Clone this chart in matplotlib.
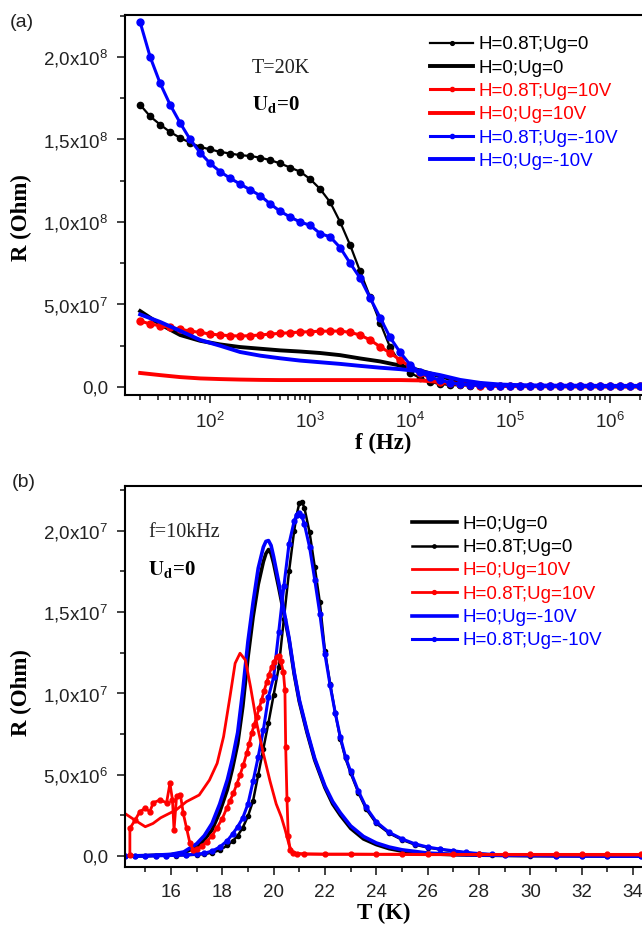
import numpy as np
import matplotlib
matplotlib.use('Agg')
import matplotlib.pyplot as plt
from matplotlib.ticker import FuncFormatter, MultipleLocator, AutoMinorLocator, LogLocator

plt.rcParams['font.family'] = ['Liberation Sans', 'DejaVu Sans']
plt.rcParams['mathtext.fontset'] = 'custom'
plt.rcParams['mathtext.rm'] = 'Liberation Sans'
plt.rcParams['mathtext.it'] = 'Liberation Sans:italic'
plt.rcParams['mathtext.bf'] = 'Liberation Sans:bold'

# ---------------- (a) R vs frequency at T=20K ----------------
# frequency sweep, 10 points per decade from 20 Hz to 2 MHz
freq = np.logspace(np.log10(20), np.log10(2e6), 51)
freq_solid = freq[::2]

# curves with markers (units of 1e7 Ohm)
Ra_h08_ug0 = np.array([17.1, 16.4, 15.9, 15.45, 15.1, 14.8, 14.55, 14.4, 14.25, 14.15,
                       14.05, 14.0, 13.9, 13.75, 13.55, 13.3, 13.05, 12.6, 12.0, 11.2,
                       10.0, 8.6, 7.0, 5.45, 3.9, 2.4, 1.45, 0.85, 0.55, 0.3,
                       0.18, 0.12, 0.1, 0.09, 0.08, 0.07, 0.07, 0.06, 0.06, 0.05,
                       0.05, 0.05, 0.05, 0.04, 0.04, 0.04, 0.04, 0.04, 0.04, 0.04, 0.04]) * 1e7
Ra_h08_ugp = np.array([4.0, 3.82, 3.71, 3.62, 3.5, 3.39, 3.31, 3.21, 3.15, 3.11,
                       3.09, 3.11, 3.15, 3.21, 3.25, 3.29, 3.33, 3.35, 3.38, 3.39,
                       3.39, 3.31, 3.15, 2.85, 2.44, 2.06, 1.64, 1.23, 0.85, 0.55,
                       0.32, 0.24, 0.18, 0.12, 0.09, 0.08, 0.07, 0.06, 0.06, 0.06,
                       0.06, 0.05, 0.05, 0.05, 0.05, 0.05, 0.05, 0.05, 0.05, 0.05, 0.05]) * 1e7
Ra_h08_ugm = np.array([22.1, 20.0, 18.4, 17.1, 16.0, 15.0, 14.2, 13.55, 13.05, 12.65,
                       12.3, 11.95, 11.6, 11.1, 10.65, 10.3, 10.0, 9.8, 9.3, 9.1,
                       8.45, 7.5, 6.6, 5.4, 4.2, 3.0, 2.1, 1.35, 0.9, 0.6,
                       0.42, 0.26, 0.18, 0.13, 0.1, 0.09, 0.08, 0.07, 0.07, 0.06,
                       0.06, 0.06, 0.06, 0.05, 0.05, 0.05, 0.05, 0.05, 0.05, 0.05, 0.05]) * 1e7
# curves without markers (units of 1e7 Ohm)
Ra_h0_ug0 = np.array([4.6, 3.8, 3.15, 2.8, 2.58, 2.42, 2.32, 2.22, 2.15, 2.06,
                      1.93, 1.73, 1.55, 1.3, 1.0, 0.65, 0.33, 0.16, 0.1, 0.07,
                      0.06, 0.05, 0.05, 0.045, 0.04, 0.04]) * 1e7
Ra_h0_ugp = np.array([0.85, 0.72, 0.6, 0.52, 0.48, 0.45, 0.43, 0.42, 0.42, 0.42,
                      0.42, 0.42, 0.42, 0.42, 0.4, 0.3, 0.18, 0.1, 0.06, 0.05,
                      0.04, 0.04, 0.03, 0.03, 0.03, 0.03]) * 1e7
Ra_h0_ugm = np.array([4.4, 3.94, 3.4, 2.85, 2.5, 2.12, 1.9, 1.74, 1.6, 1.5,
                      1.4, 1.28, 1.17, 1.08, 0.95, 0.72, 0.43, 0.25, 0.15, 0.11,
                      0.09, 0.08, 0.08, 0.07, 0.07, 0.07]) * 1e7

# ---------------- (b) R vs temperature at f=10kHz ----------------
T_solid = [14.2, 15.0, 16.0, 16.5, 17.0, 17.3, 17.6, 17.9, 18.2, 18.4, 18.6, 18.8, 19.0, 19.2,
           19.4, 19.6, 19.7, 19.8, 19.9, 20.0, 20.2, 20.4, 20.6, 20.8, 21.0, 21.3, 21.6, 22.0,
           22.3, 22.6, 23.0, 23.5, 24.0, 24.5, 25.0, 26.0, 27.0, 28.0, 30.0, 32.0, 34.3]
Rb_h0_ug0 = np.array([0.0, 0.02, 0.08, 0.2, 0.55, 1.0, 1.6, 2.7, 4.1, 5.4, 6.9, 9.2, 12.2, 14.7,
                      16.7, 18.1, 18.6, 18.85, 18.6, 18.0, 16.5, 14.9, 13.3, 11.2, 9.5, 7.6, 5.9, 4.2,
                      3.2, 2.5, 1.7, 1.05, 0.7, 0.45, 0.3, 0.14, 0.08, 0.05, 0.02, 0.01, 0.0]) * 1e6
Rb_h0_ugm = np.array([0.0, 0.02, 0.1, 0.25, 0.75, 1.25, 2.0, 3.2, 4.7, 6.0, 7.6, 10.2, 13.2, 15.6,
                      17.7, 19.0, 19.35, 19.4, 19.1, 18.4, 16.8, 15.1, 13.4, 11.3, 9.6, 7.7, 6.0, 4.3,
                      3.35, 2.65, 1.85, 1.2, 0.8, 0.55, 0.38, 0.18, 0.1, 0.06, 0.03, 0.01, 0.0]) * 1e6

T_dot = [14.2, 14.6, 15.0, 15.4, 15.8, 16.2, 16.6, 17.0, 17.3, 17.6, 17.9, 18.2, 18.4, 18.6,
         18.8, 19.0, 19.2, 19.4, 19.6, 19.8, 20.0, 20.2, 20.4, 20.6, 20.8, 20.9, 21.0, 21.1,
         21.2, 21.4, 21.6, 21.8, 22.0, 22.2, 22.4, 22.6, 22.8, 23.0, 23.3, 23.6, 24.0, 24.5,
         25.0, 25.5, 26.0, 26.5, 27.0, 27.5, 28.0, 28.5, 29.0, 30.0, 31.0, 32.0, 33.0, 34.3]
Rb_h08_ug0 = np.array([0, 0, 0, 0.01, 0.02, 0.03, 0.05, 0.08, 0.12, 0.2, 0.36, 0.65, 0.9, 1.25,
                       1.75, 2.45, 3.4, 5.0, 6.6, 8.2, 9.9, 11.6, 14.6, 17.5, 20.0, 21.0, 21.7, 21.8,
                       21.4, 19.9, 17.8, 15.6, 12.6, 10.6, 8.8, 7.2, 6.0, 5.1, 3.9, 2.9, 2.0, 1.4,
                       1.0, 0.7, 0.52, 0.4, 0.3, 0.2, 0.14, 0.09, 0.06, 0.03, 0.02, 0.01, 0.0, 0.0]) * 1e6
Rb_h08_ugm = np.array([0, 0, 0, 0.01, 0.02, 0.04, 0.07, 0.11, 0.17, 0.3, 0.55, 0.95, 1.35, 1.8,
                       2.35, 3.2, 4.6, 6.1, 7.75, 9.8, 11.0, 13.8, 16.6, 19.2, 20.6, 21.0, 21.1, 20.9,
                       20.4, 19.0, 17.0, 14.9, 12.4, 10.5, 8.8, 7.3, 6.1, 5.2, 4.0, 3.0, 2.1, 1.45,
                       1.05, 0.75, 0.55, 0.42, 0.32, 0.22, 0.15, 0.1, 0.07, 0.04, 0.02, 0.01, 0.0, 0.0]) * 1e6

# Ug=10V runs are not monotonic in T (warming/cooling loops at low T)
T_h0_ugp = [14.2, 14.6, 15.0, 15.3, 15.6, 16.2, 16.6, 17.1, 17.5, 17.8, 18.05, 18.3, 18.5,
            18.69, 18.9, 19.1, 19.35, 19.6, 19.86, 20.1, 20.3, 20.45, 20.6, 20.7, 20.85, 21.1,
            22.0, 24.0, 26.0, 28.0, 30.0, 32.0, 34.3]
Rb_h0_ugp = np.array([2.62, 2.2, 1.8, 2.0, 2.35, 2.83, 3.34, 3.75, 4.67, 5.7, 7.34, 9.8, 11.85,
                      12.47, 12.05, 10.4, 8.1, 6.3, 4.6, 3.2, 2.4, 1.6, 0.7, 0.3, 0.17, 0.12,
                      0.1, 0.1, 0.08, 0.08, 0.07, 0.06, 0.06]) * 1e6
T_h08_ugp = [14.4, 14.4, 14.6, 14.79, 14.99, 15.18, 15.31, 15.57, 15.83, 15.96, 16.06, 16.12,
             16.22, 16.37, 16.48, 16.61, 16.74, 16.87, 17.0, 17.2, 17.39, 17.6, 17.78, 18.0,
             18.17, 18.3, 18.43, 18.56, 18.69, 18.82, 18.95, 19.05, 19.14, 19.24, 19.34, 19.44,
             19.53, 19.63, 19.73, 19.82, 19.92, 20.02, 20.12, 20.2, 20.28, 20.38, 20.44, 20.47,
             20.52, 20.57, 20.64, 20.75, 20.9, 21.2, 22, 23, 24, 25, 26, 27, 28, 29, 30, 31, 32,
             33, 34.3]
Rb_h08_ugp = np.array([0.06, 1.7, 2.2, 2.73, 2.93, 2.73, 3.28, 3.44, 3.28, 4.47, 3.44, 1.6,
                       3.69, 3.75, 2.62, 1.7, 0.78, 0.37, 0.41, 0.6, 0.88, 1.25, 1.7, 2.3,
                       2.93, 3.4, 3.85, 4.4, 4.98, 5.6, 6.31, 6.9, 7.54, 8.05, 8.57, 9.1,
                       9.6, 10.15, 10.7, 11.15, 11.6, 11.95, 12.26, 12.3, 12.0, 11.3, 10.2, 6.7,
                       3.5, 1.2, 0.37, 0.2, 0.15, 0.13, 0.12, 0.12, 0.11, 0.11, 0.1, 0.1,
                       0.1, 0.1, 0.1, 0.1, 0.1, 0.1, 0.1]) * 1e6


def sci_comma(v, pos):
    if abs(v) < 1:
        return '0,0'
    e = int(np.floor(np.log10(abs(v)) + 1e-9))
    m = v / 10 ** e
    return f'{m:.1f}'.replace('.', ',') + 'x10$^{%d}$' % e


def style_axes(ax):
    ax.spines['right'].set_visible(False)
    for s in ['left', 'bottom', 'top']:
        ax.spines[s].set_linewidth(1.5)
    ax.tick_params(which='both', direction='out', top=False, right=False,
                   labelsize=13.5, colors='#222222', width=1.2)
    ax.tick_params(which='major', length=6, pad=6)
    ax.tick_params(which='minor', length=3.5)
    ax.yaxis.set_major_formatter(FuncFormatter(sci_comma))
    ax.yaxis.set_minor_locator(AutoMinorLocator(2))


fig = plt.figure(figsize=(6.42, 9.31), dpi=100)
W, H = 642.0, 931.0

# ---------------- panel (a) ----------------
ax1 = fig.add_axes([125 / W, 1 - 395 / H, 517 / W, 380 / H])
ax1.plot(freq, Ra_h08_ug0, '-o', color='black', lw=1.6, ms=4.5, label='H=0.8T;Ug=0')
ax1.plot(freq_solid, Ra_h0_ug0, '-', color='black', lw=2.8, label='H=0;Ug=0')
ax1.plot(freq, Ra_h08_ugp, '-o', color='red', lw=2.2, ms=5, label='H=0.8T;Ug=10V')
ax1.plot(freq_solid, Ra_h0_ugp, '-', color='red', lw=2.8, label='H=0;Ug=10V')
ax1.plot(freq, Ra_h08_ugm, '-o', color='blue', lw=2.2, ms=5, label='H=0.8T;Ug=-10V')
ax1.plot(freq_solid, Ra_h0_ugm, '-', color='blue', lw=2.8, label='H=0;Ug=-10V')
ax1.set_xscale('log')
ax1.set_xlim(14.1, 2.09e6)
ax1.set_ylim(-4.85e6, 2.2545e8)
ax1.yaxis.set_major_locator(MultipleLocator(5e7))
ax1.xaxis.set_major_locator(LogLocator(base=10, numticks=12))
ax1.xaxis.set_minor_locator(LogLocator(base=10, subs=np.arange(2, 10), numticks=12))
style_axes(ax1)

leg_a = [ax1.lines[i] for i in range(6)]
ax1.legend(handles=leg_a, loc='upper left', bbox_to_anchor=(0.59, 0.944),
           frameon=False, fontsize=13.5, handlelength=2.3, handletextpad=0.3,
           labelspacing=0.33, borderpad=0, borderaxespad=0, labelcolor='linecolor',
           markerscale=0.6)
ax1.text(0.2456, 0.847, 'T=20K', transform=ax1.transAxes, family='Liberation Serif',
         fontsize=14.5, va='baseline', color='#222222')
ax1.text(0.2456, 0.75, r'$\mathbf{U_d}$=0', transform=ax1.transAxes, math_fontfamily='stix',
         family='Liberation Serif', fontweight='bold', fontsize=15, va='baseline')
ax1.set_xlabel('f (Hz)', family='Liberation Serif', fontweight='bold', fontsize=16.5)
ax1.xaxis.set_label_coords(0.5, -0.1)
ax1.xaxis.label.set_va('top')
ax1.set_ylabel('R (Ohm)', family='Liberation Serif', fontweight='bold', fontsize=16.5)
ax1.yaxis.set_label_coords(-0.18, 0.466)

# ---------------- panel (b) ----------------
ax2 = fig.add_axes([125 / W, 1 - 867 / H, 517 / W, 381 / H])
l_h0_ug0, = ax2.plot(T_solid, Rb_h0_ug0, '-', color='black', lw=2.6, label='H=0;Ug=0')
l_h08_ug0, = ax2.plot(T_dot, Rb_h08_ug0, '-o', color='black', lw=1.8, ms=3, label='H=0.8T;Ug=0')
l_h0_ugm, = ax2.plot(T_solid, Rb_h0_ugm, '-', color='blue', lw=2.6, label='H=0;Ug=-10V')
l_h08_ugm, = ax2.plot(T_dot, Rb_h08_ugm, '-o', color='blue', lw=2.2, ms=3.5, label='H=0.8T;Ug=-10V')
l_h0_ugp, = ax2.plot(T_h0_ugp, Rb_h0_ugp, '-', color='red', lw=2.0, label='H=0;Ug=10V')
l_h08_ugp, = ax2.plot(T_h08_ugp, Rb_h08_ugp, '-o', color='red', lw=2.0, ms=3.5, label='H=0.8T;Ug=10V')
ax2.set_xlim(14.21, 34.35)
ax2.set_ylim(-6.77e5, 2.2755e7)
ax2.yaxis.set_major_locator(MultipleLocator(5e6))
ax2.xaxis.set_major_locator(MultipleLocator(2))
ax2.xaxis.set_minor_locator(MultipleLocator(1))
style_axes(ax2)

ax2.legend(handles=[l_h0_ug0, l_h08_ug0, l_h0_ugp, l_h08_ugp, l_h0_ugm, l_h08_ugm],
           loc='upper left', bbox_to_anchor=(0.555, 0.922), frameon=False, fontsize=13.5,
           handlelength=2.4, handletextpad=0.3, labelspacing=0.33, borderpad=0,
           borderaxespad=0, labelcolor='linecolor', markerscale=0.8)
ax2.text(0.0445, 0.866, 'f=10kHz', transform=ax2.transAxes, family='Liberation Serif',
         fontsize=14.5, va='baseline', color='#222222')
ax2.text(0.0445, 0.766, r'$\mathbf{U_d}$=0', transform=ax2.transAxes, math_fontfamily='stix',
         family='Liberation Serif', fontweight='bold', fontsize=15, va='baseline')
ax2.set_xlabel('T (K)', family='Liberation Serif', fontweight='bold', fontsize=16.5)
ax2.xaxis.set_label_coords(0.5, -0.0945)
ax2.xaxis.label.set_va('top')
ax2.set_ylabel('R (Ohm)', family='Liberation Serif', fontweight='bold', fontsize=16.5)
ax2.yaxis.set_label_coords(-0.18, 0.459)

fig.text(10 / W, 1 - 27 / H, '(a)', fontsize=14, va='baseline', color='#222222')
fig.text(12 / W, 1 - 487 / H, '(b)', fontsize=14, va='baseline', color='#222222')

fig.savefig('out.png', dpi=100)
